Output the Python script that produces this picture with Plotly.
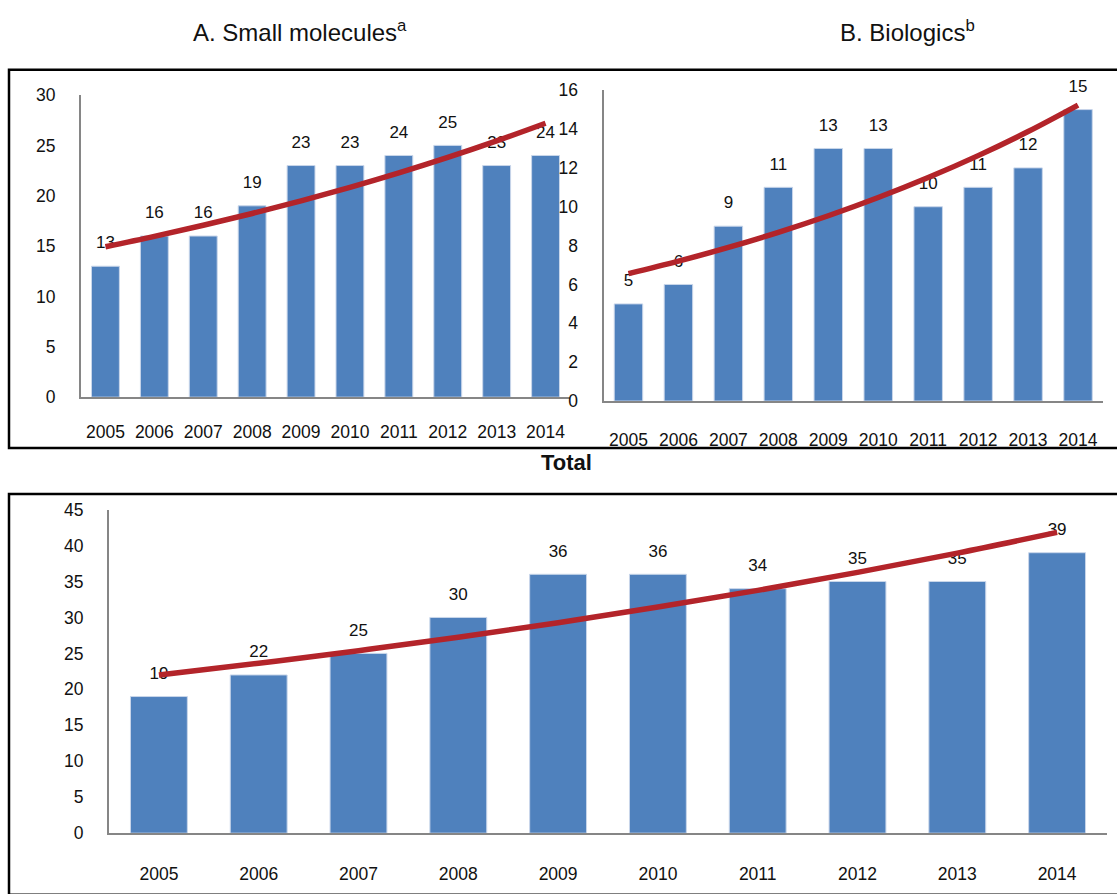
import numpy as np
import plotly.graph_objects as go

years = [2005, 2006, 2007, 2008, 2009, 2010, 2011, 2012, 2013, 2014]
small_molecules = [13, 16, 16, 19, 23, 23, 24, 25, 23, 24]
biologics = [5, 6, 9, 11, 13, 13, 10, 11, 12, 15]
total = [19, 22, 25, 30, 36, 36, 34, 35, 35, 39]

title_a = "A. Small molecules<sup>a</sup>"
title_b = "B. Biologics<sup>b</sup>"
title_total = "<b>Total</b>"

BAR = "#4F81BD"
TREND = "#B3242A"
AXIS = "#868686"
FONT = "Liberation Sans, Arial, sans-serif"

W, H = 1117, 894


def px_x(v):
    return v / W


def px_y(v):
    return 1 - v / H


def exp_trend(x, y):
    # Excel-style exponential trendline fitted to the bar values
    xi = np.arange(len(x))
    b, a = np.polyfit(xi, np.log(y), 1)
    return np.exp(a + b * xi)


fig = go.Figure()

panels = [
    ("x", "y", small_molecules),
    ("x2", "y2", biologics),
    ("x3", "y3", total),
]

for xa, ya, vals in panels:
    fig.add_trace(go.Bar(
        x=years, y=vals, xaxis=xa, yaxis=ya,
        marker=dict(color=BAR, line=dict(color="#C9D6EA", width=1)),
        hoverinfo="skip", showlegend=False,
    ))
    fig.add_trace(go.Scatter(
        x=years, y=vals, xaxis=xa, yaxis=ya, mode="markers+text",
        text=[str(v) for v in vals], textposition="top center",
        textfont=dict(family=FONT, size=17, color="#111111"),
        marker=dict(size=20, opacity=0),
        hoverinfo="skip", showlegend=False, cliponaxis=False,
    ))
    fig.add_trace(go.Scatter(
        x=years, y=exp_trend(years, vals), xaxis=xa, yaxis=ya, mode="lines",
        line=dict(color=TREND, width=5.5, shape="spline"),
        hoverinfo="skip", showlegend=False, cliponaxis=False,
    ))

axis_common = dict(showgrid=False, zeroline=False, showline=True,
                   linecolor=AXIS, linewidth=2,
                   tickfont=dict(family=FONT, size=17.5, color="#111111"))

domains = {
    "a": dict(x=[px_x(81), px_x(570)], y=[px_y(396), px_y(87)]),
    "b": dict(x=[px_x(603.5), px_x(1103)], y=[px_y(400), px_y(82)]),
    "t": dict(x=[px_x(109), px_x(1107)], y=[px_y(842), px_y(511)]),
}

fig.update_layout(
    width=W, height=H,
    margin=dict(l=0, r=0, t=0, b=0),
    paper_bgcolor="white", plot_bgcolor="white",
    font=dict(family=FONT, color="#111111"),
    bargap=0.43,
    xaxis=dict(domain=domains["a"]["x"], anchor="y", tickmode="array", tickvals=years,
               range=[2004.5, 2014.5], ticks="", ticklabelstandoff=18, **axis_common),
    yaxis=dict(domain=domains["a"]["y"], anchor="x", range=[0, 30], dtick=5,
               ticks="", ticklabelstandoff=20, **axis_common),
    xaxis2=dict(domain=domains["b"]["x"], anchor="y2", tickmode="array", tickvals=years,
                range=[2004.5, 2014.5], ticks="", ticklabelstandoff=22, **axis_common),
    yaxis2=dict(domain=domains["b"]["y"], anchor="x2", range=[0, 16], dtick=2,
                ticks="", ticklabelstandoff=20, **axis_common),
    xaxis3=dict(domain=domains["t"]["x"], anchor="y3", tickmode="array", tickvals=years,
                range=[2004.5, 2014.5], ticks="", ticklabelstandoff=24, **axis_common),
    yaxis3=dict(domain=domains["t"]["y"], anchor="x3", range=[0, 45], dtick=5,
                ticks="", ticklabelstandoff=20, **axis_common),
    shapes=[
        dict(type="rect", xref="paper", yref="paper",
             x0=px_x(9), x1=px_x(1125), y0=px_y(448), y1=px_y(61),
             line=dict(color="black", width=2.5), fillcolor="rgba(0,0,0,0)", layer="below"),
        dict(type="rect", xref="paper", yref="paper",
             x0=px_x(9), x1=px_x(1125), y0=px_y(905), y1=px_y(495),
             line=dict(color="black", width=2.5), fillcolor="rgba(0,0,0,0)", layer="below"),
    ],
    annotations=[
        dict(text=title_a, xref="paper", yref="paper", x=px_x(300), y=px_y(21),
             showarrow=False, xanchor="center", yanchor="middle",
             font=dict(family=FONT, size=24, color="#111111")),
        dict(text=title_b, xref="paper", yref="paper", x=px_x(907), y=px_y(21),
             showarrow=False, xanchor="center", yanchor="middle",
             font=dict(family=FONT, size=24, color="#111111")),
        dict(text=title_total, xref="paper", yref="paper", x=px_x(566), y=px_y(463),
             showarrow=False, xanchor="center", yanchor="middle",
             font=dict(family=FONT, size=22, color="#111111")),
    ],
)

fig.write_html("out.html")
